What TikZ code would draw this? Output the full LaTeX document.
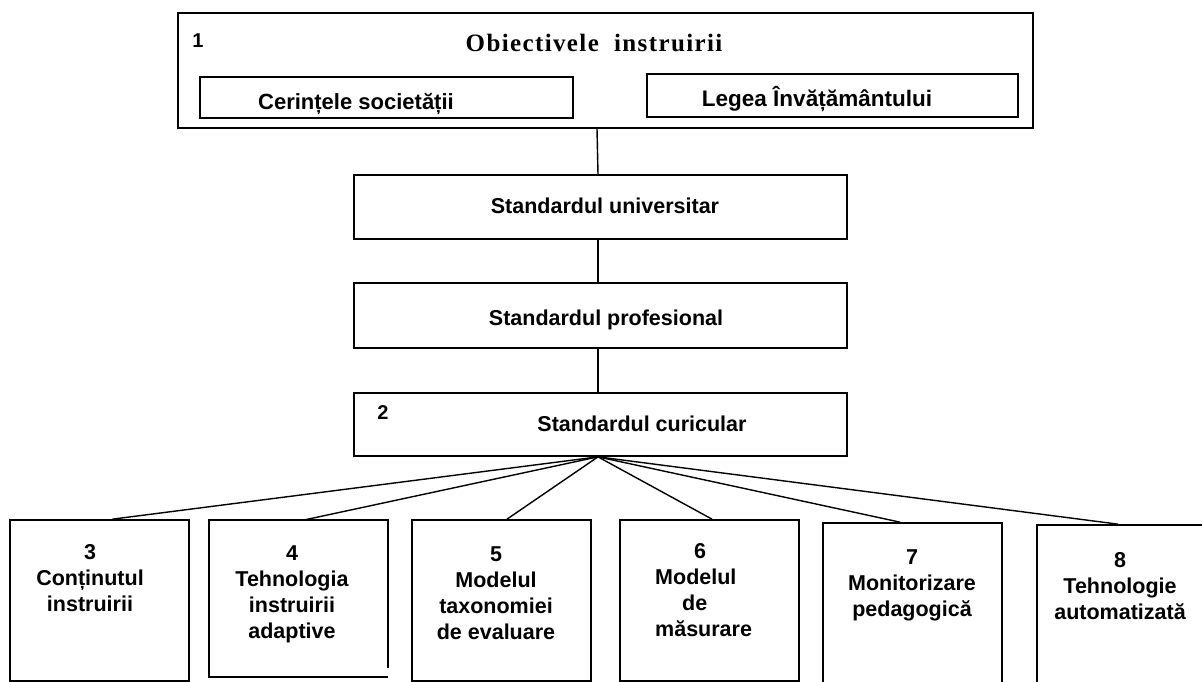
\documentclass[tikz,border=0pt]{standalone}
\usepackage{fontspec}
\setmainfont{Liberation Sans}
\newfontfamily\titlefont[LetterSpace=5.5]{Liberation Serif}
\tikzset{
  box/.style={draw=black, line width=1.7pt, rectangle, inner sep=0pt},
  conn/.style={draw=black, line width=1.4pt},
  txt/.style={inner sep=0pt, font=\fontsize{21.5}{26}\selectfont\bfseries, align=center, text=black},
  num/.style={inner sep=0pt, font=\fontsize{20}{24}\selectfont\bfseries, text=black}
}
\begin{document}
\begin{tikzpicture}[x=1pt,y=-1pt]
\useasboundingbox (0,0) rectangle (1202,682);
\fill[white] (0,0) rectangle (1202,682);
\clip (0,0) rectangle (1202,682);
% top box
\node[box, minimum width=855pt, minimum height=115pt] (top) at (605.5,70.5) {};
\node[num] (n1) at (198,41) {1};
\node[inner sep=0pt, font=\titlefont\fontsize{25}{28}\selectfont\bfseries] (title) at (594,43) {Obiectivele\ \ instruirii};
\node[box, minimum width=373pt, minimum height=41pt] (cer) at (386.5,97.5) {};
\node[txt, font=\fontsize{22}{26}\selectfont\bfseries] (certxt) at (356,104) {Cerințele societății};
\node[box, minimum width=371pt, minimum height=43pt] (leg) at (832.5,95.5) {};
\node[txt, font=\fontsize{22.5}{26}\selectfont\bfseries] (legtxt) at (817,99) {Legea Învățământului};
% standards
\node[box, minimum width=493pt, minimum height=64pt] (uni) at (600.5,207) {};
\node[txt] (unitxt) at (605,206) {Standardul universitar};
\node[box, minimum width=493pt, minimum height=65pt] (prof) at (600.5,315.5) {};
\node[txt] (proftxt) at (606,320) {Standardul profesional};
\node[box, minimum width=493pt, minimum height=63pt] (cur) at (600.5,424.5) {};
\node[num] (n2) at (383,413) {2};
\node[txt] (curtxt) at (642,424) {Standardul curicular};
\draw[conn] ([xshift=-8.5pt]top.south) -- ([xshift=-2.5pt]uni.north);
\draw[conn] ([xshift=-2.5pt]uni.south) -- ([xshift=-2.5pt]prof.north);
\draw[conn] ([xshift=-2.5pt]prof.south) -- ([xshift=-2.5pt]cur.north);
\coordinate (hub) at ([xshift=-2.5pt]cur.south);
% bottom boxes
\node[box, minimum width=179pt, minimum height=161pt] (b3) at (99.5,600.5) {};
\node[inner sep=0pt, minimum width=179pt, minimum height=157pt] (b4) at (298.5,598.5) {};
\draw[line width=1.7pt] ([yshift=9pt]b4.south east) -- (b4.north east) -- (b4.north west) -- (b4.south west) -- (b4.south east);
\node[box, minimum width=179pt, minimum height=161pt] (b5) at (501.5,600.5) {};
\node[box, minimum width=179pt, minimum height=161pt] (b6) at (709.5,600.5) {};
\node[box, minimum width=179pt, minimum height=180pt] (b7) at (912.5,613) {};
\node[box, minimum width=180pt, minimum height=180pt] (b8) at (1127,615) {};
\draw[conn] (hub) -- ([xshift=13pt]b3.north);
\draw[conn] (hub) -- ([xshift=6.5pt]b4.north);
\draw[conn] (hub) -- ([xshift=5.5pt]b5.north);
\draw[conn] (hub) -- ([xshift=2.5pt]b6.north);
\draw[conn] (hub) -- ([xshift=-12.5pt]b7.north);
\draw[conn] (hub) -- ([xshift=-9pt]b8.north);
% labels
\node[txt] (t3) at (90,578) {3\\Conținutul\\instruirii};
\node[txt] (t4) at (292,594) {4\\Tehnologia\\instruirii\\adaptive};
\node[txt] (t5) at (496,593.5) {5\\Modelul\\taxonomiei\\de evaluare};
\node[txt, align=left, anchor=west] (t6) at (655,590) {\hspace*{39pt}6\\Modelul\\\hspace*{27pt}de\\măsurare};
\node[txt] (t7) at (912,585) {7\\Monitorizare\\pedagogică};
\node[txt] (t8) at (1120,586) {8\\Tehnologie\\automatizată};
\end{tikzpicture}
\end{document}
